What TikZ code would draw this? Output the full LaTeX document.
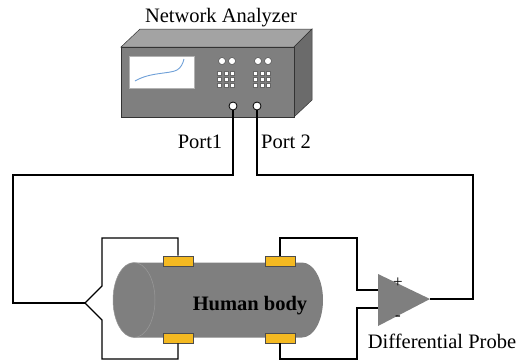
\documentclass[tikz,border=0pt]{standalone}
\usepackage{fontspec}
\setmainfont{Liberation Serif}

\definecolor{boxfront}{HTML}{7F7F7F}
\definecolor{boxtop}{HTML}{A3A3A3}
\definecolor{boxside}{HTML}{6B6B6B}
\definecolor{padorange}{HTML}{F4B921}
\definecolor{curveblue}{HTML}{6FA0D8}

\begin{document}
\begin{tikzpicture}[x=1bp, y=-1bp,
    every node/.style={font=\fontsize{20.5bp}{24bp}\selectfont},
    wire/.style={line width=1.1bp, black},
    face/.style={draw=black!80, line width=0.5bp},
    pad/.style={rectangle, draw=black!70, fill=padorange, line width=0.6bp,
                minimum width=30bp, minimum height=10bp, inner sep=0pt},
    port/.style={circle, draw=black, fill=white, line width=0.8bp,
                 minimum size=8bp, inner sep=0pt},
    knob/.style={circle, draw=black!70, fill=white, line width=0.5bp,
                 minimum size=7bp, inner sep=0pt},
    key/.style={rectangle, draw=black!60, fill=white, line width=0.4bp,
                minimum size=4bp, inner sep=0pt},
    label/.style={inner sep=0pt, anchor=base}
]
\useasboundingbox (0,0) rectangle (520,361);

% Network analyzer box
\filldraw[face, fill=boxtop] (121,47) -- (140,29) -- (312,29) -- (294,47) -- cycle;
\filldraw[face, fill=boxside] (294,47) -- (312,29) -- (312,100) -- (294,117) -- cycle;
\filldraw[face, fill=boxfront] (121,47) rectangle (294,117);

% screen
\filldraw[draw=black!30, fill=white] (129,56) rectangle (194,88);
\draw[curveblue, line width=0.9bp] (135,81) .. controls (150,72) and (170,74) .. (177,70)
    .. controls (181,68) and (183,63) .. (184,59);

% knobs and keys
\foreach \gx in {0,36} {
  \node[knob] at (222+\gx,61) {};
  \node[knob] at (232+\gx,61) {};
  \foreach \kx in {0,6.5,13}
    \foreach \ky in {73,79,85}
      \node[key] at (219.5+\gx+\kx,\ky) {};
}

\node[port] (p1) at (233,106) {};
\node[port] (p2) at (257,106) {};

\node[label] (title) at (221,22) {Network Analyzer};
\node[label] (l1) at (200,148) {Port1};
\node[label] (l2) at (286,148) {Port 2};

% Human body
\fill[boxfront] (134,262.5) -- (302,262.5)
    arc[start angle=-90, end angle=90, x radius=21, y radius=37.5]
    -- (134,337.5)
    arc[start angle=90, end angle=270, x radius=21, y radius=37.5] -- cycle;
\draw[black!40, line width=0.5bp] (134,300) ellipse [x radius=21, y radius=37.5];
\node[label, font=\fontsize{20.5bp}{24bp}\selectfont\bfseries] (body) at (250,310) {Human body};

% Electrodes
\node[pad] (padTL) at (178,261) {};
\node[pad] (padBL) at (178,338) {};
\node[pad] (padTR) at (280,261) {};
\node[pad] (padBR) at (280,338) {};

% Differential probe
\coordinate (ampIn1) at (378,290);
\coordinate (ampIn2) at (378,308);
\coordinate (ampOut) at (430,299);
\fill[boxfront] (378,274) -- (ampOut) -- (378,326) -- cycle;
\node[inner sep=0pt, font=\fontsize{17bp}{19bp}\selectfont] (plus) at (398,283) {+};
\node[inner sep=0pt, font=\fontsize{17bp}{19bp}\selectfont] (minus) at (398,318) {-};
\node[label] (probe) at (442,348) {Differential Probe};

% Wiring
\coordinate (split) at (85,303);
\draw[wire] (p1) -- (233,175) -- (13,175) -- (13,303) -- (split);
\draw[wire] (split) -- (102,286) -- (102,238) -- (178,238) -- (padTL.north);
\draw[wire] (split) -- (102,320) -- (102,359) -- (178,359) -- (padBL.south);
\draw[wire] (padTR.north) -- (280,238) -- (357,238) -- (357,290) -- (ampIn1);
\draw[wire] (padBR.south) -- (280,359) -- (357,359) -- (357,308) -- (ampIn2);
\draw[wire] (p2) -- (257,175) -- (473,175) -- (473,299) -- (ampOut);

\end{tikzpicture}
\end{document}
